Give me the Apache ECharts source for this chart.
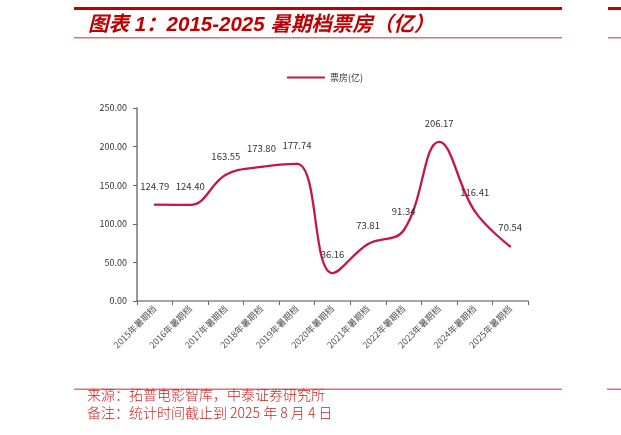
<!DOCTYPE html>
<html>
<head>
<meta charset="utf-8">
<script src="https://cdn.jsdelivr.net/npm/echarts@6/dist/echarts.min.js"></script>
<style>
  html, body { margin: 0; padding: 0; background: #fff; }
  #chart { width: 621px; height: 435px; }
</style>
</head>
<body>
<div id="chart"></div>
<script>
// 2015-2025 暑期档票房（亿）
const categories = ['2015年暑期档', '2016年暑期档', '2017年暑期档', '2018年暑期档', '2019年暑期档',
  '2020年暑期档', '2021年暑期档', '2022年暑期档', '2023年暑期档', '2024年暑期档', '2025年暑期档'];
const boxOffice = [124.79, 124.40, 163.55, 173.80, 177.74, 36.16, 73.81, 91.34, 206.17, 116.41, 70.54];
const seriesName = '票房(亿)';
const titleText = '图表 1：2015-2025 暑期档票房（亿）';
const sourceText = '来源：拓普电影智库，中泰证券研究所';
const noteText = '备注：统计时间截止到 2025 年 8 月 4 日';

const chart = echarts.init(document.getElementById('chart'));
const cjk = '"Noto Sans CJK SC", "Liberation Sans", sans-serif';
const lineColor = '#c41848';

const option = {
  backgroundColor: '#fff',
  textStyle: { fontFamily: cjk },
  graphic: [
    // header rules
    { type: 'rect', shape: { x: 74, y: 7, width: 488, height: 3 }, style: { fill: '#c00000' } },
    { type: 'rect', shape: { x: 608, y: 7, width: 13, height: 3 }, style: { fill: '#c00000' } },
    { type: 'rect', shape: { x: 74, y: 37, width: 488, height: 1.5 }, style: { fill: '#e07070' } },
    { type: 'rect', shape: { x: 608, y: 37, width: 13, height: 1.5 }, style: { fill: '#e07070' } },
    {
      type: 'text', left: 88, top: 15,
      style: {
        text: titleText, fill: '#c00000',
        font: 'italic bold 20.5px "Liberation Sans", "Noto Sans CJK SC", sans-serif'
      }
    },
    // footer rules and notes
    { type: 'rect', shape: { x: 74, y: 388.5, width: 488, height: 1.5 }, style: { fill: '#e07070' } },
    { type: 'rect', shape: { x: 607, y: 388.5, width: 14, height: 1.5 }, style: { fill: '#e07070' } },
    {
      type: 'text', left: 87, top: 388,
      style: { text: sourceText, fill: '#cc2020', font: '300 14px ' + cjk }
    },
    {
      type: 'text', left: 87, top: 406,
      style: { text: noteText, fill: '#cc2020', font: '300 14px ' + cjk }
    }
  ],
  legend: {
    data: [seriesName],
    left: 282,
    top: 68,
    icon: 'rect',
    itemWidth: 38,
    itemHeight: 2,
    itemGap: 4,
    textStyle: { fontSize: 9, color: '#333', fontFamily: cjk }
  },
  grid: { left: 137, right: 93, top: 108, bottom: 134, containLabel: false },
  xAxis: {
    type: 'category',
    data: categories,
    boundaryGap: true,
    axisLine: { lineStyle: { color: '#888', width: 1.5 } },
    axisTick: { show: true, length: 4, lineStyle: { color: '#666' } },
    axisLabel: { rotate: 45, fontSize: 9, color: '#555', margin: 6, interval: 0 },
    splitLine: { show: false }
  },
  yAxis: {
    type: 'value',
    min: 0,
    max: 250,
    interval: 50,
    axisLine: { show: true, lineStyle: { color: '#777', width: 1.5 } },
    axisTick: { show: true, length: 4, lineStyle: { color: '#666' } },
    axisLabel: {
      fontSize: 9, color: '#333', margin: 10,
      formatter: v => v.toFixed(2)
    },
    splitLine: { show: false }
  },
  series: [
    {
      name: seriesName,
      type: 'line',
      data: boxOffice,
      smooth: 0.4,
      symbol: 'circle',
      symbolSize: 2,
      showSymbol: true,
      showAllSymbol: true,
      lineStyle: { color: lineColor, width: 2.3 },
      itemStyle: { color: lineColor, borderWidth: 0 },
      label: {
        show: true,
        position: 'top',
        distance: 13,
        fontSize: 9.5,
        color: '#333',
        formatter: p => Number(p.value).toFixed(2)
      },
      labelLayout: { hideOverlap: false }
    }
  ]
};
chart.setOption(option);
</script>
</body>
</html>
